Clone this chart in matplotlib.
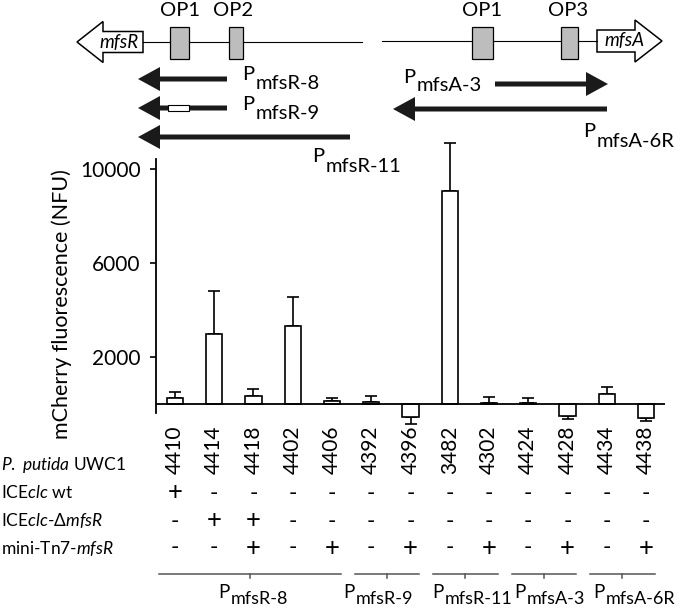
import matplotlib
matplotlib.use("Agg")
import matplotlib.pyplot as plt
from matplotlib import transforms
from matplotlib.patches import FancyArrow, Rectangle

plt.rcParams['font.family'] = ['Lato', 'DejaVu Sans']
plt.rcParams['mathtext.fontset'] = 'custom'
plt.rcParams['mathtext.rm'] = 'Lato'
plt.rcParams['mathtext.it'] = 'Lato:italic'

# ---------------- data ----------------
strains = ["4410", "4414", "4418", "4402", "4406", "4392", "4396",
           "3482", "4302", "4424", "4428", "4434", "4438"]
values = [250, 3000, 340, 3320, 130, 85, -550, 9060, 40, 30, -510, 425, -600]
errors = [260, 1800, 300, 1230, 125, 255, 300, 2040, 260, 225, 130, 295, 120]
ice_wt = ["+", "-", "-", "-", "-", "-", "-", "-", "-", "-", "-", "-", "-"]
ice_dmfsR = ["-", "+", "+", "-", "-", "-", "-", "-", "-", "-", "-", "-", "-"]
mini_tn7 = ["-", "-", "+", "-", "+", "-", "+", "-", "+", "-", "+", "-", "+"]
row_labels = [r"$\mathit{P.\ putida}$ UWC1",
              r"ICE$\mathit{clc}$ wt",
              r"ICE$\mathit{clc}$-Δ$\mathit{mfsR}$",
              r"mini-Tn$\mathit{7}$-$\mathit{mfsR}$"]
group_names = ["mfsR-8", "mfsR-9", "mfsR-11", "mfsA-3", "mfsA-6R"]
group_first = [0, 5, 7, 9, 11]
group_last = [4, 6, 8, 10, 12]
yticks = [2000, 6000, 10000]
ylabel = "mCherry fluorescence (NFU)"

FS = 14.5
W, H = 680, 609
fig = plt.figure(figsize=(W / 100, H / 100), dpi=100)

# main bar axes
ax = fig.add_axes([156 / W, 1 - 413 / H, (665 - 156) / W, (413 - 159) / H])
x = list(range(len(values)))
ax.bar(x, values, width=0.41, color="white", edgecolor="black",
       linewidth=1.2, zorder=3, clip_on=False)
lower = [e if v < 0 else 0 for v, e in zip(values, errors)]
upper = [e if v >= 0 else 0 for v, e in zip(values, errors)]
ax.errorbar(x, values, yerr=[lower, upper], fmt="none", ecolor="black",
            elinewidth=1.2, capsize=4.5, capthick=1.2, zorder=2, clip_on=False)
ax.axhline(0, color="black", linewidth=1.3, zorder=4)
ax.set_xlim(-0.484, 12.484)
ax.set_ylim(-383, 10426)
for s in ["top", "right", "bottom"]:
    ax.spines[s].set_visible(False)
ax.spines["left"].set_linewidth(1.3)
ax.set_xticks([])
ax.set_yticks(yticks)
ax.set_yticklabels([str(t) for t in yticks], fontsize=15)
ax.tick_params(axis="y", direction="out", length=4, width=1.2, pad=7)
ax.set_ylabel(ylabel, fontsize=FS + 1, labelpad=6)
ax.yaxis.set_label_coords(-0.165, 0.43)
ax.patch.set_alpha(0)

# overlay in pixel coordinates
ov = fig.add_axes([0, 0, 1, 1], zorder=5)
ov.set_xlim(0, W)
ov.set_ylim(H, 0)
ov.axis("off")
ov.patch.set_alpha(0)
bt = transforms.blended_transform_factory(ax.transData, ov.transData)

# strain numbers and +/- rows
for i, s in enumerate(strains):
    ov.text(i, 450, s, transform=bt, rotation=90, ha="center", va="center",
            fontsize=15)
for yy, row in zip([493, 521, 548], [ice_wt, ice_dmfsR, mini_tn7]):
    for i, sgn in enumerate(row):
        ov.text(i, yy, sgn, transform=bt, ha="center", va="center",
                fontsize=FS + 4 if sgn == "+" else FS + 2,
                fontweight="normal")
for yy, lab in zip([465, 493, 521, 548], row_labels):
    ov.text(1, yy, lab, ha="left", va="center", fontsize=12.5)

# group lines and labels
label_px = [218, 343, 432, 514, 593]
for name, a, b, px in zip(group_names, group_first, group_last, label_px):
    x0, x1 = a - 0.42, b + 0.22
    ov.plot([x0, x1], [574, 574], color="#555555", lw=1.1, transform=bt)
    xc = (x0 + x1) / 2
    ov.plot([xc, xc], [574, 578], color="#555555", lw=1.1, transform=bt)
    ov.text(px, 598, "P", ha="left", va="baseline", fontsize=13.5)
    ov.text(px + 13, 604, name, ha="left", va="baseline", fontsize=13)


# ---------------- top gene diagram ----------------
def parrow(x0, x1, y, rect=None):
    ov.add_patch(FancyArrow(x0, y, x1 - x0, 0, width=5, head_width=24,
                            head_length=22, length_includes_head=True,
                            color="#1a1a1a", lw=0))
    if rect:
        ov.add_patch(Rectangle((rect[0], y - 3), rect[1] - rect[0], 6,
                               facecolor="white", edgecolor="black", lw=0.8,
                               zorder=3))


def plabel(x, y, sub, shift=9):
    ov.text(x, y, "P", ha="left", va="baseline", fontsize=FS)
    ov.text(x + 14, y + shift, sub, ha="left", va="baseline", fontsize=FS)


ov.plot([143, 362], [42, 42], color="black", lw=0.8)
ov.plot([382, 597], [41, 41], color="black", lw=0.8)
for (a, b) in [(170, 189), (229, 243), (472, 493), (561, 578)]:
    ov.add_patch(Rectangle((a, 27), b - a, 32, facecolor="#bdbdbd",
                           edgecolor="black", lw=0.9, zorder=3))
for xx, t in [(180, "OP1"), (233, "OP2"), (482, "OP1"), (568, "OP3")]:
    ov.text(xx, 11, t, ha="center", va="center", fontsize=FS)
ov.add_patch(FancyArrow(143, 42, -66, 0, width=21, head_width=41,
                        head_length=26, length_includes_head=True,
                        facecolor="white", edgecolor="black", lw=1.1))
ov.text(119, 42, "mfsR", style="italic", ha="center", va="center", fontsize=FS - 1)
ov.add_patch(FancyArrow(597, 41, 65, 0, width=22, head_width=42,
                        head_length=27, length_includes_head=True,
                        facecolor="white", edgecolor="black", lw=1.1))
ov.text(625, 41, "mfsA", style="italic", ha="center", va="center", fontsize=FS - 1)

parrow(227, 138, 79)
parrow(227, 138, 108, rect=(168, 189))
parrow(350, 138, 137)
parrow(495, 608, 84)
parrow(607, 393, 109)
plabel(242, 80, "mfsR-8")
plabel(242, 110, "mfsR-9")
plabel(312, 162, "mfsR-11", shift=10)
plabel(403, 83, "mfsA-3", shift=8)
plabel(583, 137, "mfsA-6R", shift=10)

fig.savefig("out.png", dpi=100)
